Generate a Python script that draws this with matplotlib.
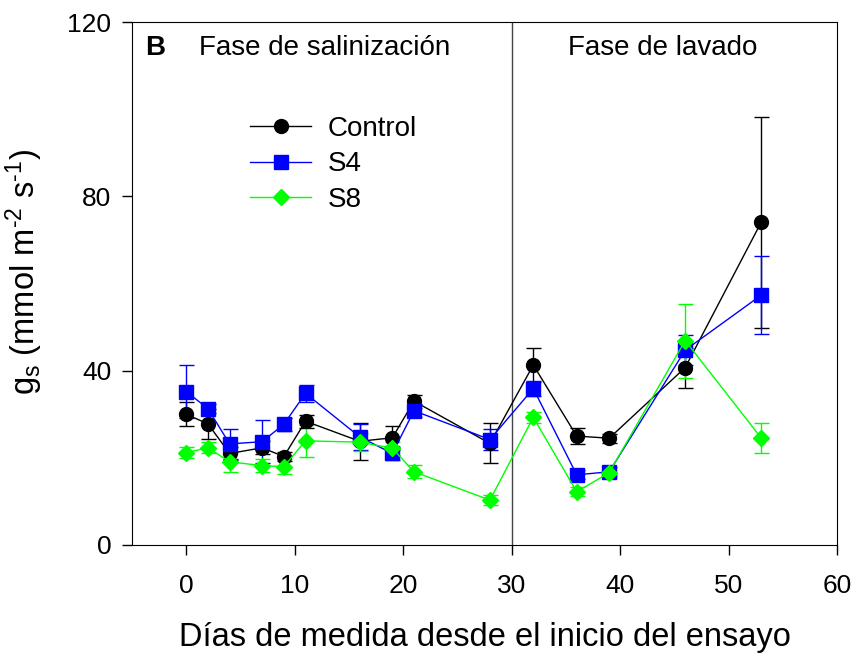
import numpy as np
import matplotlib
matplotlib.use('Agg')
import matplotlib.pyplot as plt
from matplotlib.lines import Line2D

plt.rcParams['font.family'] = ['Liberation Sans', 'DejaVu Sans']
plt.rcParams['mathtext.fontset'] = 'custom'
plt.rcParams['mathtext.rm'] = 'Liberation Sans'
plt.rcParams['mathtext.it'] = 'Liberation Sans:italic'

# días de medida
dias = [0, 2, 4, 7, 9, 11, 16, 19, 21, 28, 32, 36, 39, 46, 53]

# gs (mmol m-2 s-1) y error estándar
control = [30.0, 27.8, 21.0, 22.3, 20.3, 28.4, 23.8, 24.6, 33.0, 23.3, 41.3, 25.0, 24.5, 40.7, 74.0]
control_err = [2.8, 3.5, 1.5, 1.5, 1.0, 1.5, 4.3, 2.8, 1.5, 4.6, 4.0, 1.8, 1.0, 4.6, 24.2]

s4 = [35.2, 31.3, 23.2, 23.7, 27.7, 34.8, 24.8, 21.0, 30.8, 24.2, 35.9, 16.1, 16.8, 44.7, 57.3]
s4_err = [6.0, 1.0, 3.4, 5.0, 1.5, 2.0, 3.0, 1.5, 1.5, 2.5, 1.8, 1.0, 1.0, 3.5, 9.0]

s8 = [21.2, 22.3, 19.1, 18.2, 18.0, 23.9, 23.6, 22.2, 16.8, 10.3, 29.3, 12.2, 16.6, 46.9, 24.6]
s8_err = [1.3, 1.3, 2.3, 1.5, 1.8, 3.6, 2.0, 1.5, 1.5, 1.2, 1.3, 1.0, 1.3, 8.5, 3.5]

fig = plt.figure(figsize=(8.54, 6.55), dpi=100)
ax = fig.add_axes([132/854, 1 - 545/655, 705/854, 523/655])

series = [
    ('Control', control, control_err, 'black', 'o', 10),
    ('S4', s4, s4_err, '#0000ff', 's', 9.5),
    ('S8', s8, s8_err, '#00ff00', 'D', 8.5),
]
handles = []
for name, y, err, col, mk, ms in series:
    ax.errorbar(dias, y, yerr=err, color=col, marker=mk, markersize=ms,
                lw=1, elinewidth=1, capsize=5.4, capthick=1)
    handles.append(Line2D([], [], color=col, marker=mk, markersize=ms, lw=1, label=name))

ax.axvline(30, color='#444444', lw=1)

ax.set_xlim(-5, 60)
ax.set_ylim(0, 120)
ax.set_xticks([0, 10, 20, 30, 40, 50, 60])
ax.set_yticks([0, 40, 80, 120])
ax.tick_params(direction='out', length=7, width=1, labelsize=19, pad=8)
ax.tick_params(axis='x', pad=14)

ax.set_xlabel('Días de medida desde el inicio del ensayo', fontsize=23.5, labelpad=17)
ax.set_ylabel('g$_\\mathregular{s}$ (mmol m$^\\mathregular{\u20102}$ s$^\\mathregular{\u20101}$)',
              fontsize=23.5)
ax.yaxis.set_label_coords(-0.124, 0.522)

ax.text(0.018, 0.95, 'B', transform=ax.transAxes, fontsize=20, fontweight='bold', va='center', ha='left')
ax.text(0.095, 0.95, 'Fase de salinización', transform=ax.transAxes, fontsize=20, va='center', ha='left')
ax.text(0.753, 0.95, 'Fase de lavado', transform=ax.transAxes, fontsize=20, va='center', ha='center')

ax.legend(handles=handles, loc='upper left', bbox_to_anchor=(250/854, 1 - 116/655),
          bbox_transform=fig.transFigure, frameon=False, fontsize=20, handlelength=2.2,
          handletextpad=0.6, labelspacing=0.34, borderpad=0, borderaxespad=0)

fig.savefig('out.png', dpi=100)
